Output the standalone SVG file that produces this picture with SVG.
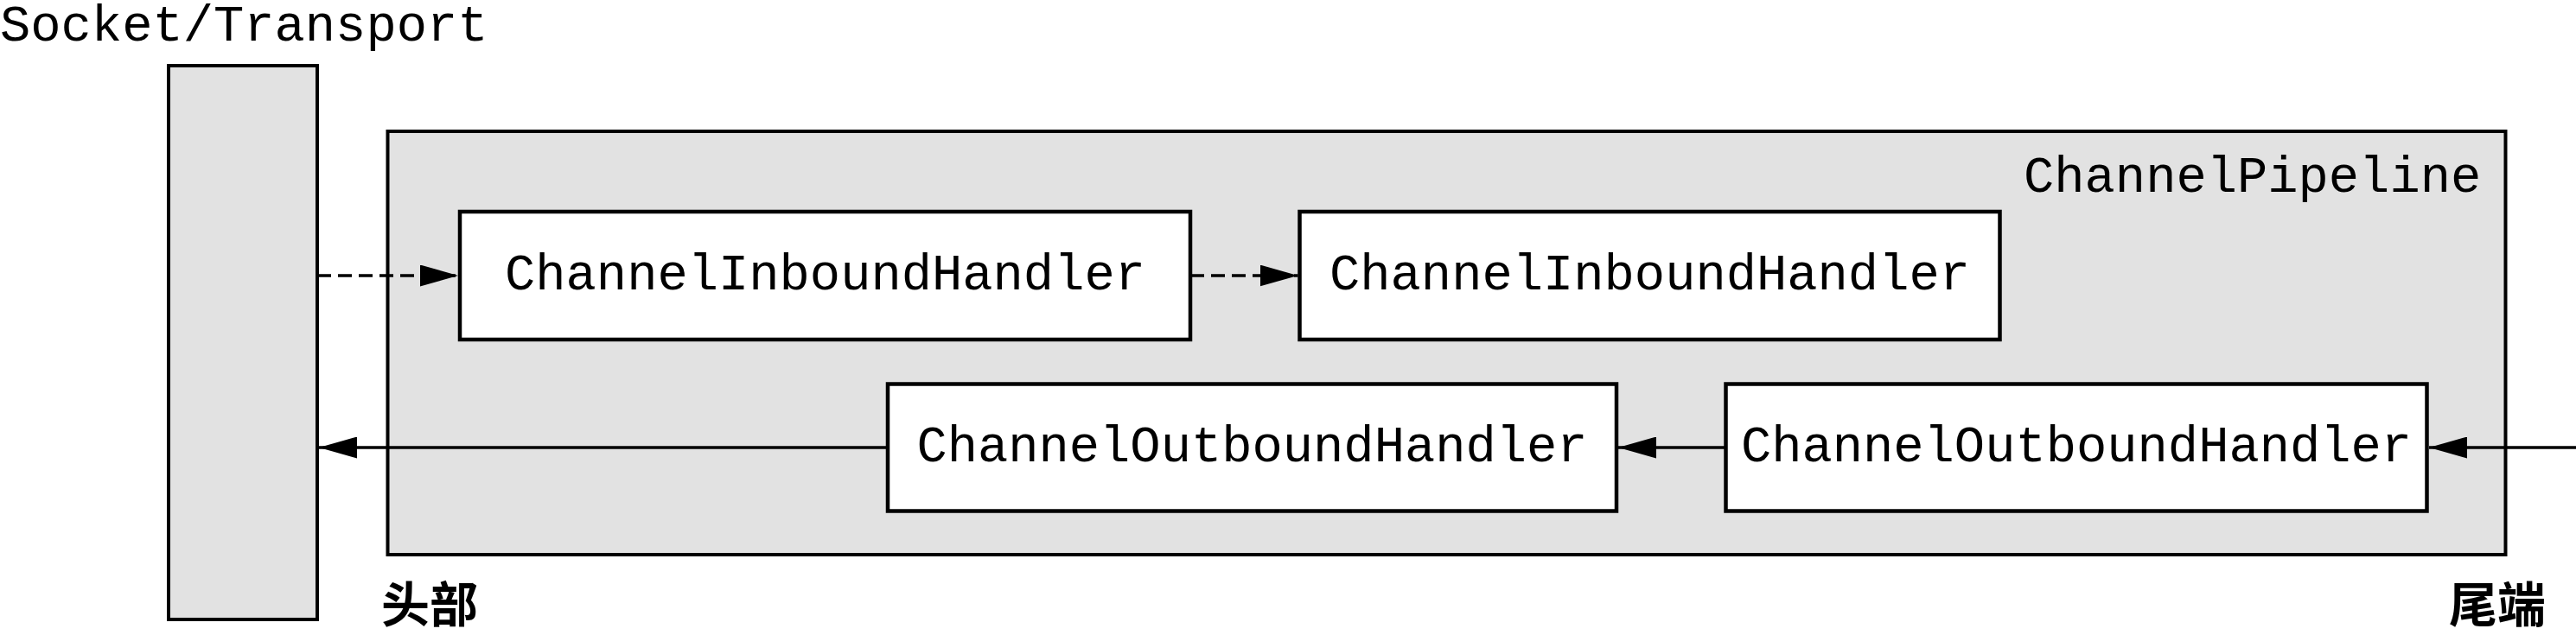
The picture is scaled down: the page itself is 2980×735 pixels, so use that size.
<svg xmlns="http://www.w3.org/2000/svg" width="2980" height="735" viewBox="0 0 2980 735">
<style>
.mono{font-family:"Liberation Mono","Courier New",monospace;font-size:58.8px;fill:#000}
.cjk{font-family:"Noto Sans CJK SC",sans-serif;font-size:56px;font-weight:700;fill:#000}
.gray{fill:#e2e2e2;stroke:#000;stroke-width:4}
.handler{fill:#fff;stroke:#000;stroke-width:4.5}
.conn{stroke:#000;stroke-width:3.5;fill:none}
.dash{stroke-dasharray:16 8}
</style>
<defs>
<marker id="ah" markerUnits="userSpaceOnUse" markerWidth="44" markerHeight="25" refX="44" refY="12.5" orient="auto">
<path d="M0,0 L44,12.5 L0,25 Z" fill="#000"/>
</marker>
</defs>
<g id="socket">
<rect class="gray" x="195" y="76" width="172" height="641"/>
<text class="mono" x="0" y="47">Socket/Transport</text>
</g>
<g id="pipeline">
<rect class="gray" x="448.5" y="152" width="2450" height="490"/>
<text class="mono" x="2341" y="222">ChannelPipeline</text>
</g>
<g id="inbound1">
<rect class="handler" x="532" y="245" width="845" height="148"/>
<text class="mono" x="954.5" y="335" text-anchor="middle">ChannelInboundHandler</text>
</g>
<g id="inbound2">
<rect class="handler" x="1503.5" y="245" width="810" height="148"/>
<text class="mono" x="1908.5" y="335" text-anchor="middle">ChannelInboundHandler</text>
</g>
<g id="outbound1">
<rect class="handler" x="1027" y="444.5" width="843" height="147"/>
<text class="mono" x="1448.5" y="534" text-anchor="middle">ChannelOutboundHandler</text>
</g>
<g id="outbound2">
<rect class="handler" x="1996.5" y="444.5" width="811" height="147"/>
<text class="mono" x="2402" y="534" text-anchor="middle">ChannelOutboundHandler</text>
</g>
<g id="head">
<text class="cjk" x="441" y="720">头部</text>
</g>
<g id="tail">
<text class="cjk" x="2833" y="720">尾端</text>
</g>
<g id="connectors">
<line class="conn dash" x1="367" y1="319" x2="530" y2="319" marker-end="url(#ah)"/>
<line class="conn dash" x1="1377" y1="319" x2="1501.5" y2="319" marker-end="url(#ah)"/>
<line class="conn" x1="1027" y1="518" x2="369" y2="518" marker-end="url(#ah)"/>
<line class="conn" x1="1996.5" y1="518" x2="1872" y2="518" marker-end="url(#ah)"/>
<line class="conn" x1="2980" y1="518" x2="2810" y2="518" marker-end="url(#ah)"/>
</g>
</svg>
